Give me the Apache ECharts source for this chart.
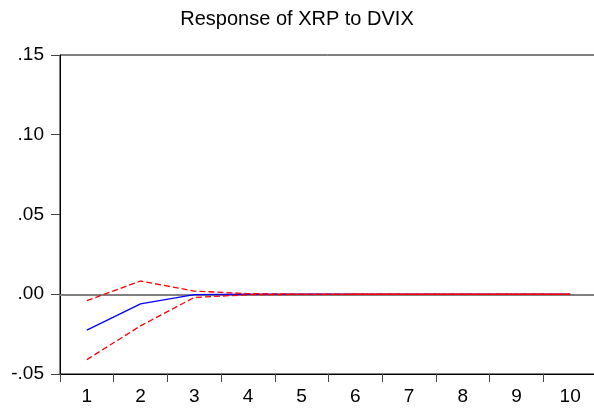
<!DOCTYPE html>
<html>
<head>
<meta charset="utf-8">
<script src="https://cdn.jsdelivr.net/npm/echarts@6/dist/echarts.min.js"></script>
<style>
  html, body { margin: 0; padding: 0; background: #fff; }
  #chart { width: 594px; height: 411px; }
</style>
</head>
<body>
<div id="chart"></div>
<script>
// Impulse response periods
const periods = ['1', '2', '3', '4', '5', '6', '7', '8', '9', '10'];
// Point estimate of the response
const response = [-0.0225, -0.006, -0.0002, 0.0, 0.0, 0.0, 0.0, 0.0, 0.0, 0.0];
// ±2 S.E. bands
const upperBand = [-0.004, 0.0083, 0.002, 0.0004, 0.0001, 0.0, 0.0, 0.0, 0.0, 0.0];
const lowerBand = [-0.041, -0.0198, -0.002, -0.0003, -0.0001, 0.0, 0.0, 0.0, 0.0, 0.0];
// Value-axis ticks
const yTicks = [-0.05, 0.0, 0.05, 0.10, 0.15];

const FONT = 'Liberation Sans, Arial, sans-serif';

function fmtTick(v) {
  const s = Math.abs(v).toFixed(2).replace(/^0/, '');
  return (v < -1e-9 ? '-' : '') + s;
}

const chart = echarts.init(document.getElementById('chart'), null, { renderer: 'canvas' });

chart.setOption({
  animation: false,
  backgroundColor: '#fff',
  title: {
    text: 'Response of XRP to DVIX',
    left: 'center',
    top: 4,
    textStyle: { fontFamily: FONT, fontSize: 20, fontWeight: 'normal', color: '#000' }
  },
  // plot frame runs slightly past the right edge of the canvas
  grid: {
    left: 60, width: 537, top: 55, bottom: 37,
    outerBoundsMode: 'none',
    containLabel: false,
    show: true, borderColor: '#000', borderWidth: 1, backgroundColor: 'transparent'
  },
  xAxis: {
    type: 'category',
    data: periods,
    boundaryGap: true,
    axisLine: { show: true, onZero: false, lineStyle: { color: '#000', width: 1 } },
    axisTick: { show: true, inside: false, length: 8, lineStyle: { color: '#444' } },
    axisLabel: { fontFamily: FONT, fontSize: 19, color: '#000', margin: 13 },
    splitLine: { show: false }
  },
  yAxis: {
    type: 'value',
    min: yTicks[0],
    max: yTicks[yTicks.length - 1],
    interval: 0.05,
    axisLine: { show: true, onZero: false, lineStyle: { color: '#000', width: 1 } },
    axisTick: { show: true, inside: false, length: 9, lineStyle: { color: '#444' } },
    axisLabel: { fontFamily: FONT, fontSize: 19, color: '#000', margin: 16, formatter: fmtTick },
    splitLine: { show: false }
  },
  series: [
    {
      // zero reference line, kept beneath the response curves
      name: 'zero',
      type: 'line',
      data: [],
      silent: true,
      z: 1,
      markLine: {
        symbol: 'none',
        silent: true,
        z: 1,
        label: { show: false },
        lineStyle: { color: '#808080', width: 2, type: 'solid' },
        data: [{ yAxis: 0 }]
      }
    },
    {
      name: 'Response',
      type: 'line',
      data: response,
      symbol: 'none',
      z: 4,
      lineStyle: { color: '#0000ff', width: 1.3 }
    },
    {
      name: 'Upper',
      type: 'line',
      data: upperBand,
      symbol: 'none',
      z: 5,
      lineStyle: { color: '#ff0000', width: 1.3, type: [6, 3] }
    },
    {
      name: 'Lower',
      type: 'line',
      data: lowerBand,
      symbol: 'none',
      z: 5,
      lineStyle: { color: '#ff0000', width: 1.3, type: [6, 3] }
    }
  ]
});
</script>
</body>
</html>
